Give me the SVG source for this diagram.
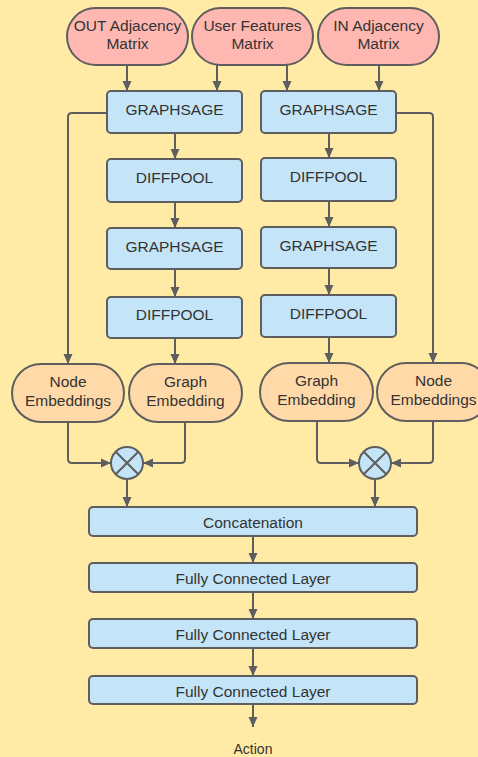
<svg xmlns="http://www.w3.org/2000/svg" width="478" height="757" viewBox="0 0 478 757">
  <defs>
    <marker id="arrow" viewBox="0 0 10 10" refX="10" refY="5" markerWidth="10" markerHeight="10" markerUnits="userSpaceOnUse" orient="auto">
      <path d="M0,0.5 L10,5 L0,9.5 Z" fill="#5e5e5e"/>
    </marker>
    <style>
      .input { fill: #ffb8b1; stroke: #5e5e5e; stroke-width: 2; }
      .layer { fill: #c4e5f7; stroke: #5e5e5e; stroke-width: 2; }
      .embed { fill: #ffdaa8; stroke: #5e5e5e; stroke-width: 2; }
      .op { fill: #c4e5f7; stroke: #5e5e5e; stroke-width: 2; }
      .op-x { stroke: #5e5e5e; stroke-width: 2; fill: none; }
      .edge { fill: none; stroke: #5e5e5e; stroke-width: 2; marker-end: url(#arrow); }
      text { font-family: "Liberation Sans", Arial, sans-serif; font-size: 15.5px; fill: #333333; text-anchor: middle; }
    </style>
  </defs>

  <rect x="0" y="0" width="478" height="757" fill="#ffeba6"/>

  <!-- connectors -->
  <g id="connectors">
    <path class="edge" d="M127,65 V91"/>
    <path class="edge" d="M217,65 V91"/>
    <path class="edge" d="M287,65 V91"/>
    <path class="edge" d="M379,65 V91"/>

    <path class="edge" d="M175,133 V159"/>
    <path class="edge" d="M175,202 V228"/>
    <path class="edge" d="M175,269 V297"/>
    <path class="edge" d="M175,338 V364"/>

    <path class="edge" d="M329,133 V158"/>
    <path class="edge" d="M329,201 V227"/>
    <path class="edge" d="M329,268 V295"/>
    <path class="edge" d="M329,337 V363"/>

    <path class="edge" d="M107,113 H72 Q68,113 68,117 V364"/>
    <path class="edge" d="M396,113 H429 Q433,113 433,117 V363"/>

    <path class="edge" d="M68,422 V459 Q68,463 72,463 H111"/>
    <path class="edge" d="M185,422 V459 Q185,463 181,463 H143"/>
    <path class="edge" d="M317,421 V459 Q317,463 321,463 H359"/>
    <path class="edge" d="M433,421 V459 Q433,463 429,463 H391"/>

    <path class="edge" d="M127,479 V507"/>
    <path class="edge" d="M375,479 V507"/>

    <path class="edge" d="M253,536 V563"/>
    <path class="edge" d="M253,592 V619"/>
    <path class="edge" d="M253,648 V676"/>
    <path class="edge" d="M253,704 V727"/>
  </g>

  <!-- inputs -->
  <g id="out-adjacency">
    <rect class="input" x="67" y="8" width="121" height="57" rx="28.5"/>
    <text x="127.5" y="31">OUT Adjacency</text>
    <text x="127.5" y="49">Matrix</text>
  </g>
  <g id="user-features">
    <rect class="input" x="192" y="8" width="121" height="57" rx="28.5"/>
    <text x="252.5" y="31">User Features</text>
    <text x="252.5" y="49">Matrix</text>
  </g>
  <g id="in-adjacency">
    <rect class="input" x="318" y="8" width="121" height="57" rx="28.5"/>
    <text x="378.5" y="31">IN Adjacency</text>
    <text x="378.5" y="49">Matrix</text>
  </g>

  <!-- left branch -->
  <g id="graphsage-l1">
    <rect class="layer" x="107" y="91" width="135" height="42" rx="4"/>
    <text x="174.5" y="115">GRAPHSAGE</text>
  </g>
  <g id="diffpool-l1">
    <rect class="layer" x="107" y="159" width="135" height="43" rx="4"/>
    <text x="174.5" y="183">DIFFPOOL</text>
  </g>
  <g id="graphsage-l2">
    <rect class="layer" x="107" y="228" width="135" height="41" rx="4"/>
    <text x="174.5" y="252">GRAPHSAGE</text>
  </g>
  <g id="diffpool-l2">
    <rect class="layer" x="107" y="297" width="135" height="41" rx="4"/>
    <text x="174.5" y="320">DIFFPOOL</text>
  </g>

  <!-- right branch -->
  <g id="graphsage-r1">
    <rect class="layer" x="261" y="91" width="135" height="42" rx="4"/>
    <text x="328.5" y="115">GRAPHSAGE</text>
  </g>
  <g id="diffpool-r1">
    <rect class="layer" x="261" y="158" width="135" height="43" rx="4"/>
    <text x="328.5" y="182">DIFFPOOL</text>
  </g>
  <g id="graphsage-r2">
    <rect class="layer" x="261" y="227" width="135" height="41" rx="4"/>
    <text x="328.5" y="251">GRAPHSAGE</text>
  </g>
  <g id="diffpool-r2">
    <rect class="layer" x="261" y="295" width="135" height="42" rx="4"/>
    <text x="328.5" y="319">DIFFPOOL</text>
  </g>

  <!-- embeddings -->
  <g id="node-emb-l">
    <rect class="embed" x="12" y="364" width="112" height="58" rx="29"/>
    <text x="68" y="387">Node</text>
    <text x="68" y="406">Embeddings</text>
  </g>
  <g id="graph-emb-l">
    <rect class="embed" x="129" y="364" width="113" height="58" rx="29"/>
    <text x="185.5" y="387">Graph</text>
    <text x="185.5" y="406">Embedding</text>
  </g>
  <g id="graph-emb-r">
    <rect class="embed" x="260" y="363" width="113" height="58" rx="29"/>
    <text x="316.5" y="386">Graph</text>
    <text x="316.5" y="405">Embedding</text>
  </g>
  <g id="node-emb-r">
    <rect class="embed" x="377" y="363" width="113" height="58" rx="29"/>
    <text x="433.5" y="386">Node</text>
    <text x="433.5" y="405">Embeddings</text>
  </g>

  <!-- product operators -->
  <g id="product-l">
    <circle class="op" cx="127" cy="463" r="16"/>
    <path class="op-x" d="M115.7,451.7 L138.3,474.3 M138.3,451.7 L115.7,474.3"/>
  </g>
  <g id="product-r">
    <circle class="op" cx="375" cy="463" r="16"/>
    <path class="op-x" d="M363.7,451.7 L386.3,474.3 M386.3,451.7 L363.7,474.3"/>
  </g>

  <!-- head -->
  <g id="concatenation">
    <rect class="layer" x="89" y="507" width="328" height="29" rx="4"/>
    <text x="253" y="528">Concatenation</text>
  </g>
  <g id="fc1">
    <rect class="layer" x="89" y="563" width="328" height="29" rx="4"/>
    <text x="253" y="584">Fully Connected Layer</text>
  </g>
  <g id="fc2">
    <rect class="layer" x="89" y="619" width="328" height="29" rx="4"/>
    <text x="253" y="640">Fully Connected Layer</text>
  </g>
  <g id="fc3">
    <rect class="layer" x="89" y="676" width="328" height="28" rx="4"/>
    <text x="253" y="697">Fully Connected Layer</text>
  </g>
  <g id="action">
    <text x="253" y="754" style="font-size:14px">Action</text>
  </g>
</svg>
